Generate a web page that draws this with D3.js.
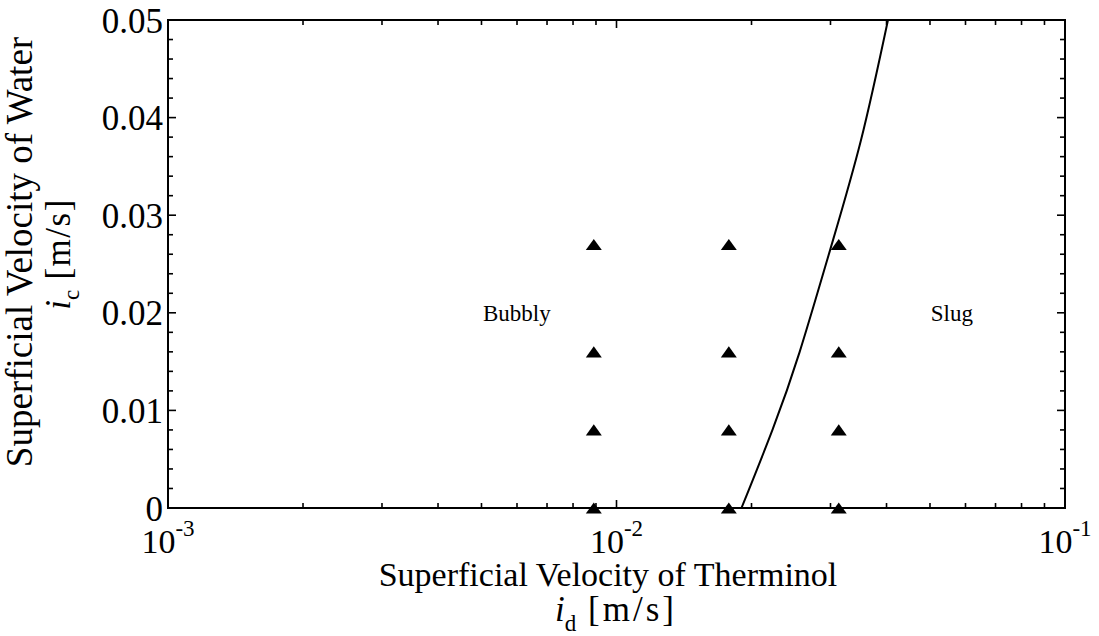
<!DOCTYPE html>
<html><head><meta charset="utf-8">
<script src="https://cdn.jsdelivr.net/npm/d3@7"></script>
<style>body{margin:0;background:#fff}svg{display:block}text{font-family:"Liberation Serif","Times New Roman",serif;fill:#000}</style>
</head><body><svg id="c" width="1099" height="636"></svg>
<script>
// data
const jdPoints = [0.0089, 0.0178, 0.0313];
const jcPoints = [0, 0.008, 0.016, 0.027];
const boundaryJd = [0.0190, 0.02227, 0.02561, 0.02997, 0.03509, 0.0403];
const boundaryJc = [0, 0.008, 0.016, 0.0265, 0.0377, 0.05];
const xMajor = [0.001, 0.01, 0.1];
const xMajorExp = ["-3", "-2", "-1"];
const yMajor = [0, 0.01, 0.02, 0.03, 0.04, 0.05];
const yLabels = ["0", "0.01", "0.02", "0.03", "0.04", "0.05"];
const regionLabels = [{t:"Bubbly", jd:0.00504, jc:0.0192}, {t:"Slug", jd:0.0502, jc:0.0192}];

const svg = d3.select("#c");
const L=168, R=1065, T=20, B=508;
const x = d3.scaleLog().domain([0.001, 0.1]).range([L, R]);
const y = d3.scaleLinear().domain([0, 0.05]).range([B, T]);

const xMinor = [];
[0.001, 0.01].forEach(d => { for (let k=2;k<=9;k++) xMinor.push(d*k); });
const yMinor = d3.range(0, 51, 2).map(v => v/1000).filter(v => !yMajor.some(m => Math.abs(m-v)<1e-9));

const g = svg.append("g");
function xt(vals, len){
  vals.forEach(v=>{
    g.append("line").attr("x1",x(v)).attr("x2",x(v)).attr("y1",B).attr("y2",B-len).attr("stroke","#000").attr("stroke-width",1.6);
    g.append("line").attr("x1",x(v)).attr("x2",x(v)).attr("y1",T).attr("y2",T+len).attr("stroke","#000").attr("stroke-width",1.6);
  });
}
function yt(vals, len){
  vals.forEach(v=>{
    g.append("line").attr("y1",y(v)).attr("y2",y(v)).attr("x1",L).attr("x2",L+len).attr("stroke","#000").attr("stroke-width",1.6);
    g.append("line").attr("y1",y(v)).attr("y2",y(v)).attr("x1",R).attr("x2",R-len).attr("stroke","#000").attr("stroke-width",1.6);
  });
}
xt(xMajor, 8); xt(xMinor, 5); yt(yMajor, 8); yt(yMinor, 5);
g.append("rect").attr("x",L).attr("y",T).attr("width",R-L).attr("height",B-T).attr("fill","none").attr("stroke","#000").attr("stroke-width",2);

// y tick labels
yMajor.forEach((v,i)=>{
  g.append("text").attr("x",L-5).attr("y",y(v)).attr("dy","0.36em").attr("text-anchor","end").attr("font-size",35).text(yLabels[i]);
});
// x tick labels
xMajor.forEach((v,i)=>{
  const t = g.append("text").attr("x",x(v)).attr("y",553).attr("text-anchor","middle").attr("font-size",34);
  t.append("tspan").text("10");
  t.append("tspan").attr("dy",-17).attr("font-size",23).text(xMajorExp[i]);
});

// boundary curve
const line = d3.line().x(d=>x(d[0])).y(d=>y(d[1])).curve(d3.curveNatural);
g.append("path").datum(boundaryJd.map((d,i)=>[d, boundaryJc[i]])).attr("d", line).attr("fill","none").attr("stroke","#000").attr("stroke-width",2);

// triangle markers
const tri = {draw(ctx, size){ const w=8, h=5.6; ctx.moveTo(0,-h); ctx.lineTo(w,h); ctx.lineTo(-w,h); ctx.closePath(); }};
const sym = d3.symbol().type(tri);
jdPoints.forEach(jd => jcPoints.forEach(jc => {
  g.append("path").attr("d", sym()).attr("transform", `translate(${x(jd)},${y(jc)})`).attr("fill","#000");
}));

// region labels
regionLabels.forEach(r=>{
  g.append("text").attr("x",x(r.jd)).attr("y",y(r.jc)).attr("font-size",23).text(r.t);
});

// axis titles
svg.append("text").attr("x",608).attr("y",586).attr("text-anchor","middle").attr("font-size",34).text("Superficial Velocity of Therminol");
const xt2 = svg.append("text").attr("x",616).attr("y",621).attr("text-anchor","middle").attr("font-size",35);
xt2.append("tspan").attr("font-style","italic").text("i");
xt2.append("tspan").attr("font-size",23).attr("dy",10).text("d");
xt2.append("tspan").attr("dy",-10).attr("letter-spacing",3).text(" [m/s]");

svg.append("text").attr("transform","translate(32,252) rotate(-90)").attr("text-anchor","middle").attr("font-size",37).text("Superficial Velocity of Water");
const yt2 = svg.append("text").attr("transform","translate(70,254) rotate(-90)").attr("text-anchor","middle").attr("font-size",35);
yt2.append("tspan").attr("font-style","italic").text("i");
yt2.append("tspan").attr("font-size",23).attr("dy",9).text("c");
yt2.append("tspan").attr("dy",-9).attr("letter-spacing",1.5).text(" [m/s]");
</script></body></html>
